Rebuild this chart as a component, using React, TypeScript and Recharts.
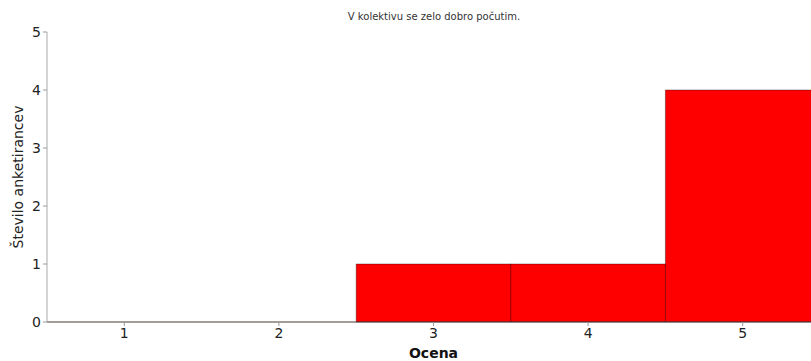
import React from 'react';
import { BarChart, Bar, XAxis, YAxis, Label } from 'recharts';

const categories = ['1', '2', '3', '4', '5'];
const counts = [0, 0, 1, 1, 4];
const yTicks = [0, 1, 2, 3, 4, 5];

const data = categories.map((c, i) => ({ ocena: c, stevilo: counts[i] }));

const font = 'Tahoma, "DejaVu Sans", Verdana, sans-serif';

export default function App() {
  return (
    <div style={{ position: 'absolute', left: 0, top: 0, width: 811, height: 361, overflow: 'hidden', background: '#fff' }}>
      <div
        style={{
          position: 'absolute',
          top: 11,
          left: 0,
          width: 868,
          textAlign: 'center',
          fontFamily: font,
          fontSize: 10,
          color: '#333',
        }}
      >
        V kolektivu se zelo dobro počutim.
      </div>
      <BarChart
        width={830}
        height={361}
        data={data}
        margin={{ top: 32, right: 10, bottom: 0, left: 0 }}
        barCategoryGap={0}
        style={{ fontFamily: font }}
      >
        <XAxis
          dataKey="ocena"
          axisLine={{ stroke: '#4a3838' }}
          tickLine={{ stroke: '#999' }}
          tickSize={4}
          tick={{ fill: '#222', fontSize: 14 }}
          height={39}
        >
          <Label value="Ocena" position="insideBottom" offset={3} fill="#111" fontSize={14} fontWeight="bold" />
        </XAxis>
        <YAxis
          domain={[0, 5]}
          ticks={yTicks}
          width={47}
          axisLine={{ stroke: '#aaa' }}
          tickLine={{ stroke: '#999' }}
          tickSize={4}
          tick={{ fill: '#222', fontSize: 14 }}
        >
          <Label value="Število anketirancev" angle={-90} position="insideLeft" offset={18} fill="#222" fontSize={14} style={{ textAnchor: 'middle' }} />
        </YAxis>
        <Bar dataKey="stevilo" fill="#ff0000" stroke="rgba(0,0,0,0.35)" isAnimationActive={false} />
      </BarChart>
    </div>
  );
}
